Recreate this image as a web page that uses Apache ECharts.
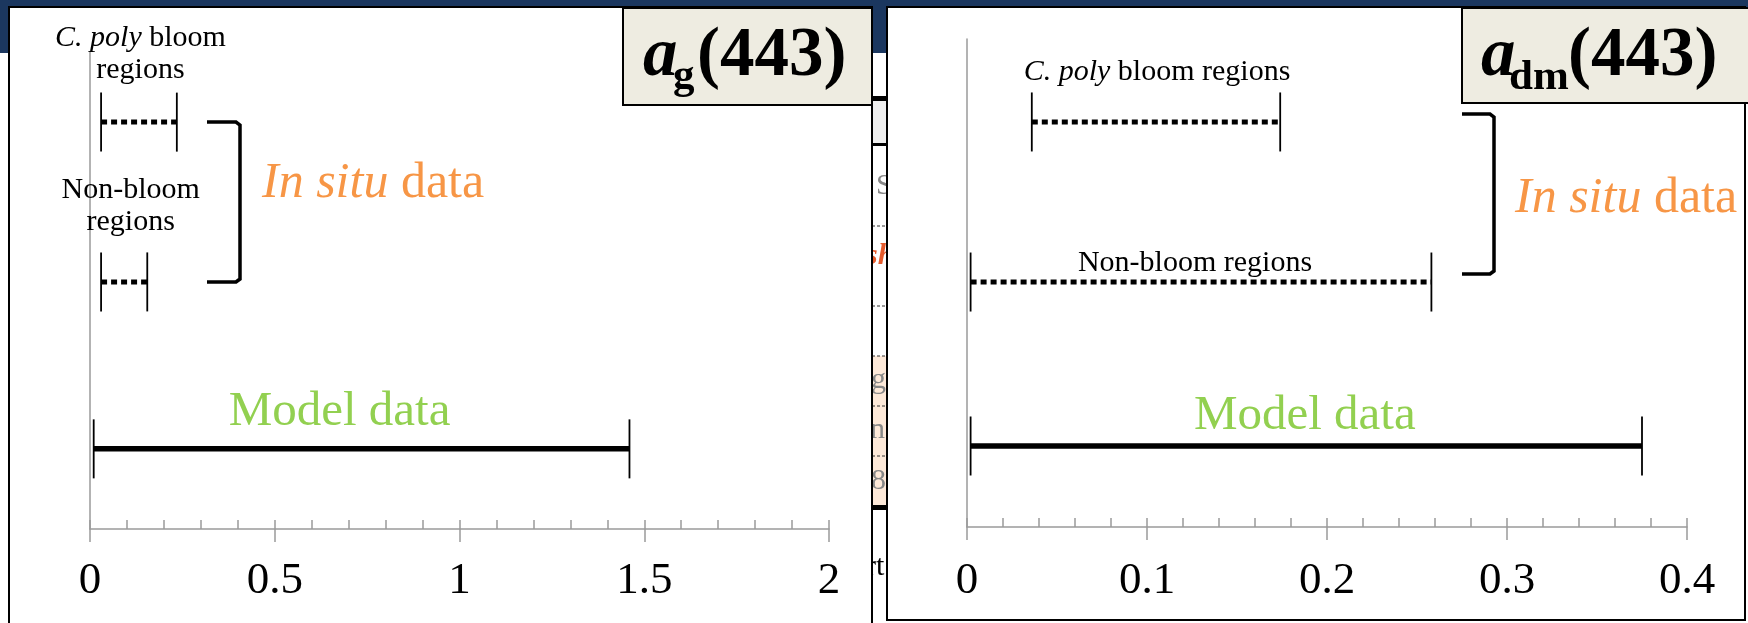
<!DOCTYPE html>
<html><head><meta charset="utf-8">
<script src="https://cdn.jsdelivr.net/npm/echarts@6/dist/echarts.min.js"></script>
<style>html,body{margin:0;padding:0;background:#fff;}#c{width:1748px;height:623px;}</style>
</head><body><div id="c"></div>
<script>
// ---------------- data ----------------
const categories = ['C. poly bloom regions', 'Non-bloom regions', 'Model data'];
const agLow   = [0.03, 0.03, 0.01];
const agHigh  = [0.235, 0.155, 1.46];
const admLow  = [0.036, 0.002, 0.002];
const admHigh = [0.174, 0.258, 0.375];
const agTicks  = [0, 0.5, 1, 1.5, 2];
const admTicks = [0, 0.1, 0.2, 0.3, 0.4];
const titleSubs = ['g', 'dm'];
const inSituLabel = 'In situ data';

// ---------------- layout / style ----------------
const FONT = "'Liberation Serif', 'DejaVu Serif', serif";
const ORANGE = '#F79646', GREEN = '#92D050', AXIS = '#9a9a9a';
const CAP = 29.5;
const rows1 = [0.853, 0.518, 0.168];
const rows2 = [0.830, 0.502, 0.166];
const lab1 = [
  {text: '{i|C. poly} bloom\nregions', dx: 1.5, dy: -68, size: 30, color: '#000'},
  {text: 'Non-bloom\nregions', dx: 6.5, dy: -76, size: 30, color: '#000'},
  {text: categories[2], dx: -22, dy: -36.5, size: 49, color: GREEN}
];
const lab2 = [
  {text: '{i|C. poly} bloom regions', dx: 1, dy: -49.5, size: 30, color: '#000'},
  {text: categories[1], dx: -6, dy: -19, size: 30, color: '#000'},
  {text: categories[2], dx: -1.5, dy: -29.5, size: 49, color: GREEN}
];

function rangeRenderer(rows, labels) {
  return function (params, api) {
    const i = params.dataIndex;
    const a = api.coord([api.value(0), rows[i]]);
    const b = api.coord([api.value(1), rows[i]]);
    const isModel = i === 2;
    const L = labels[i];
    return {
      type: 'group',
      children: [
        {type: 'line', shape: {x1: a[0], y1: a[1], x2: b[0], y2: b[1]},
         style: {stroke: '#000', lineWidth: isModel ? 5.5 : 5, lineDash: isModel ? null : [6, 4], lineCap: 'butt'}},
        {type: 'line', shape: {x1: a[0], y1: a[1] - CAP, x2: a[0], y2: a[1] + CAP},
         style: {stroke: '#000', lineWidth: 1.8}},
        {type: 'line', shape: {x1: b[0], y1: b[1] - CAP, x2: b[0], y2: b[1] + CAP},
         style: {stroke: '#000', lineWidth: 1.8}},
        {type: 'text', x: (a[0] + b[0]) / 2 + L.dx, y: a[1] + L.dy,
         style: {text: L.text, fill: L.color, font: L.size + 'px ' + FONT,
                 align: 'center', verticalAlign: 'middle', lineHeight: 32,
                 rich: {i: {fontStyle: 'italic', fontSize: L.size, fontFamily: FONT, fill: L.color, lineHeight: 32}}}}
      ]
    };
  };
}

function xAxes(grid, ticks, minorStep, margin) {
  const min = ticks[0], max = ticks[ticks.length - 1], step = ticks[1] - ticks[0];
  return [
    {type: 'value', gridIndex: grid, position: 'bottom', min: min, max: max, interval: step,
     axisLine: {show: true, lineStyle: {color: AXIS, width: 1.5}},
     axisTick: {show: true, inside: false, length: 13, lineStyle: {color: AXIS, width: 1.5}},
     axisLabel: {show: true, margin: margin, color: '#000', fontSize: 45, fontFamily: FONT,
                 formatter: v => String(ticks[Math.round((v - min) / step)])},
     splitLine: {show: false}},
    {type: 'value', gridIndex: grid, position: 'bottom', offset: 0, min: min, max: max, interval: minorStep,
     axisLine: {show: false},
     axisTick: {show: true, inside: true, length: 9, lineStyle: {color: AXIS, width: 1.5}},
     axisLabel: {show: false}, splitLine: {show: false}}
  ];
}
function yAxis(grid) {
  return {type: 'value', gridIndex: grid, min: 0, max: 1,
          axisLine: {show: true, lineStyle: {color: AXIS, width: 1.5}},
          axisTick: {show: false}, axisLabel: {show: false}, splitLine: {show: false}};
}

function txt(x, y, text, font, fill, z, align) {
  return {type: 'text', x: x, y: y, z: z || 10,
          style: {text: text, font: font, fill: fill, align: align || 'left', verticalAlign: 'middle'}};
}
function rect(x, y, w, h, fill, z, stroke, lw) {
  return {type: 'rect', z: z, shape: {x: x, y: y, width: w, height: h},
          style: {fill: fill, stroke: stroke || null, lineWidth: lw || 0}};
}
function hline(x1, x2, y, z, dash) {
  return {type: 'line', z: z, shape: {x1: x1, y1: y, x2: x2, y2: y},
          style: {stroke: '#333', lineWidth: 1, lineDash: dash || null}};
}
function bracket(x0, x1, top, bottom) {
  return {type: 'polyline', z: 10,
          shape: {points: [[x0, top], [x1 - 4, top], [x1, top + 3], [x1, bottom - 3], [x1 - 4, bottom], [x0, bottom]]},
          style: {stroke: '#000', lineWidth: 3.5, fill: null}};
}
function inSitu(x, y) {
  const parts = inSituLabel.split(' ');
  return {type: 'text', x: x, y: y, z: 10,
          style: {text: '{i|' + parts[0] + ' ' + parts[1] + '} ' + parts[2], font: '50px ' + FONT, fill: ORANGE,
                  align: 'left', verticalAlign: 'middle',
                  rich: {i: {fontStyle: 'italic', fontSize: 50, fontFamily: FONT, fill: ORANGE}}}};
}

const BF = 'bold 69px ' + FONT, BFI = 'italic bold 69px ' + FONT, SF = 'bold 43px ' + FONT;

const graphics = [
  // background slide
  rect(0, 0, 1748, 53, '#1B375F', -30),
  rect(872, 96, 16, 5, '#000', -25),
  rect(872, 101, 16, 42, '#EFEFEF', -25),
  rect(872, 143, 16, 3, '#000', -25),
  txt(876, 186, 'S', '30px ' + FONT, '#888', -24),
  hline(872, 888, 226, -24, [3, 2]),
  txt(866, 256, 'sh', 'italic bold 30px ' + FONT, '#E55B2D', -24),
  hline(872, 888, 306, -24, [3, 2]),
  rect(872, 356, 16, 149, '#FDE9D9', -25),
  hline(872, 888, 356, -24, [3, 2]),
  hline(872, 888, 406, -24, [3, 2]),
  hline(872, 888, 456, -24, [3, 2]),
  txt(871, 380, 'g', '30px ' + FONT, '#888', -24),
  txt(870, 430, 'n', '30px ' + FONT, '#888', -24),
  txt(871, 481, '8', '30px ' + FONT, '#888', -24),
  rect(872, 505, 16, 5, '#000', -25),
  txt(866, 567, 'rt', '30px ' + FONT, '#000', -24),
  // panels
  rect(9, 7, 863, 640, '#fff', -10, '#000', 2),
  rect(887, 7, 858, 613, '#fff', -10, '#000', 2),
  // title boxes
  rect(623, 8, 249, 97, '#EEECE1', 5, '#000', 2),
  rect(1462, 8, 300, 95, '#EEECE1', 5, '#000', 2),
  txt(643, 57, 'a', BFI, '#000', 10),
  txt(673, 77, titleSubs[0], SF, '#000', 10),
  txt(697, 57, '(443)', BF, '#000', 10),
  txt(1481, 57, 'a', BFI, '#000', 10),
  txt(1509, 78, titleSubs[1], SF, '#000', 10),
  txt(1568, 57, '(443)', BF, '#000', 10),
  // brackets & in situ annotation
  bracket(207, 240, 122, 282),
  bracket(1462, 1494, 114, 274),
  inSitu(262, 184),
  inSitu(1515, 198.5)
];

const chart = echarts.init(document.getElementById('c'), null, {renderer: 'canvas'});
chart.setOption({
  animation: false,
  backgroundColor: '#fff',
  grid: [
    {left: 90, top: 52, width: 739, height: 477},
    {left: 967, top: 39, width: 720, height: 488}
  ],
  xAxis: [].concat(xAxes(0, agTicks, 0.1, 30), xAxes(1, admTicks, 0.02, 32)),
  yAxis: [yAxis(0), yAxis(1)],
  graphic: {elements: graphics},
  series: [
    {type: 'custom', xAxisIndex: 0, yAxisIndex: 0, z: 3,
     encode: {x: [0, 1], y: 2},
     data: agLow.map((v, i) => [v, agHigh[i], i]),
     renderItem: rangeRenderer(rows1, lab1)},
    {type: 'custom', xAxisIndex: 2, yAxisIndex: 1, z: 3,
     encode: {x: [0, 1], y: 2},
     data: admLow.map((v, i) => [v, admHigh[i], i]),
     renderItem: rangeRenderer(rows2, lab2)}
  ]
});
</script></body></html>
